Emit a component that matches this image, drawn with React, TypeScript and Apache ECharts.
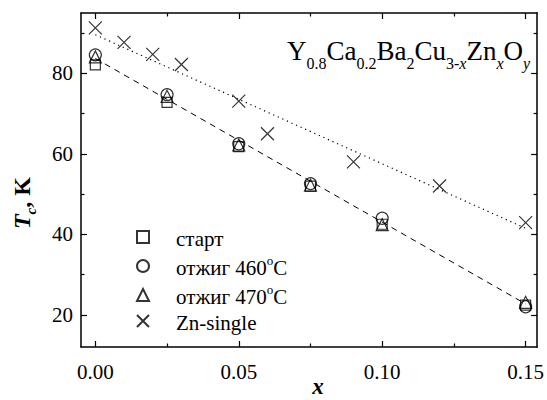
import React, { useEffect, useRef } from 'react';
import * as echarts from 'echarts';

// ---- data ----
const xStart = [0, 0.025, 0.05, 0.075, 0.1, 0.15];
const tcStart = [82.1, 72.8, 61.8, 52.0, 42.5, 22.4];
const tc460 = [84.6, 74.7, 62.5, 52.6, 44.0, 22.0];
const tc470 = [84.1, 74.3, 62.2, 52.2, 42.4, 23.1];
const xZn = [0, 0.01, 0.02, 0.03, 0.05, 0.06, 0.09, 0.12, 0.15];
const tcZn = [91.3, 87.7, 84.7, 82.2, 73.1, 65.0, 58.0, 52.0, 42.9];
const fitX = [0, 0.15];
const fitAnneal = [83.7, 22.7];
const fitZn = [89.6, 41.5];
const xMajor = [0, 0.05, 0.1, 0.15];
const xMinor = [0.025, 0.075, 0.125];
const yMajor = [20, 40, 60, 80];
const yMinor = [30, 50, 70, 90];
const seriesNames = ['старт', 'отжиг 460°C', 'отжиг 470°C', 'Zn-single'];

const X_MIN = -0.005;
const X_MAX = 0.154;
const Y_MIN = 12;
const Y_MAX = 95;
const FONT = 'Liberation Serif';
const INK = '#000';

const zip = (xs: number[], ys: number[]) => xs.map((x, i) => [x, ys[i]]);

function xAxisDef(position: string, ticks: number[], len: number, label: boolean, line: boolean) {
  return {
    type: 'value', position, min: X_MIN, max: X_MAX, gridIndex: 0,
    axisLine: { show: line, onZero: false, lineStyle: { color: INK, width: 1.5 } },
    axisTick: { show: true, inside: true, length: len, customValues: ticks, lineStyle: { color: INK, width: 1.2 } },
    axisLabel: {
      show: label, customValues: ticks, margin: 14,
      formatter: (v: number) => v.toFixed(2),
      fontFamily: FONT, fontSize: 21, color: INK,
    },
    splitLine: { show: false },
  };
}
function yAxisDef(position: string, ticks: number[], len: number, label: boolean, line: boolean) {
  return {
    type: 'value', position, min: Y_MIN, max: Y_MAX, gridIndex: 0,
    axisLine: { show: line, onZero: false, lineStyle: { color: INK, width: 1.5 } },
    axisTick: { show: true, inside: true, length: len, customValues: ticks, lineStyle: { color: INK, width: 1.2 } },
    axisLabel: {
      show: label, customValues: ticks, margin: 8,
      formatter: (v: number) => String(v),
      fontFamily: FONT, fontSize: 21, color: INK,
    },
    splitLine: { show: false },
  };
}

const hollow = { color: 'transparent', borderColor: INK, borderWidth: 1.2 };

export default function App() {
  const ref = useRef<HTMLDivElement>(null);
  useEffect(() => {
    if (!ref.current) return;
    const chart = echarts.init(ref.current, null, { renderer: 'svg' });
    chart.setOption({
      animation: false,
      backgroundColor: '#fff',
      textStyle: { fontFamily: FONT },
      grid: { left: 81, top: 13, right: 1, bottom: 53, containLabel: false },
      xAxis: [
        xAxisDef('bottom', xMajor, 6, true, true),
        xAxisDef('bottom', xMinor, 3.5, false, false),
        xAxisDef('top', xMajor, 6, false, true),
        xAxisDef('top', xMinor, 3.5, false, false),
      ],
      yAxis: [
        yAxisDef('left', yMajor, 6, true, true),
        yAxisDef('left', yMinor, 3.5, false, false),
        yAxisDef('right', yMajor, 6, false, true),
        yAxisDef('right', yMinor, 3.5, false, false),
      ],
      legend: {
        orient: 'vertical', left: 136, top: 228, padding: 0,
        itemWidth: 12, itemHeight: 12, itemGap: 5,
        selectedMode: false,
        data: seriesNames,
        formatter: (name: string) => {
          const parts = name.split('°');
          if (parts.length === 2) return `{p|${parts[0]}}{sup|o}{n|${parts[1]}}`;
          return `{p|${name}}`;
        },
        textStyle: {
          fontFamily: FONT, fontSize: 21, color: INK,
          rich: {
            p: { fontFamily: FONT, fontSize: 21, color: INK, padding: [0, 0, 0, 22], lineHeight: 24, verticalAlign: 'bottom' },
            n: { fontFamily: FONT, fontSize: 21, color: INK, lineHeight: 24, verticalAlign: 'bottom' },
            sup: { fontFamily: FONT, fontSize: 13, color: INK, lineHeight: 13, verticalAlign: 'top' },
          },
        },
      },
      series: [
        {
          name: 'fit-anneal', type: 'line', data: zip(fitX, fitAnneal), symbol: 'none',
          lineStyle: { color: INK, width: 1, type: [6, 5] }, z: 1,
        },
        {
          name: 'fit-zn', type: 'line', data: zip(fitX, fitZn), symbol: 'none',
          lineStyle: { color: INK, width: 1.2, type: [1.2, 3.8] }, z: 1,
        },
        {
          name: seriesNames[0], type: 'scatter', data: zip(xStart, tcStart),
          symbol: 'rect', symbolSize: 10, itemStyle: hollow, z: 3,
        },
        {
          name: seriesNames[1], type: 'scatter', data: zip(xStart, tc460),
          symbol: 'circle', symbolSize: 12, itemStyle: hollow, z: 3,
        },
        {
          name: seriesNames[2], type: 'scatter', data: zip(xStart, tc470),
          symbol: 'triangle', symbolSize: 12, itemStyle: hollow, z: 3,
        },
        {
          name: seriesNames[3], type: 'scatter', data: zip(xZn, tcZn),
          symbol: 'path://M0,0L10,10M10,0L0,10', symbolSize: 13, itemStyle: hollow, z: 3,
        },
      ],
      graphic: [
        {
          type: 'text', x: 287, y: 37, z: 10,
          style: {
            text: '{m|Y}{s|0.8}{m|Ca}{s|0.2}{m|Ba}{s|2}{m|Cu}{s|3-}{si|x}{m|Zn}{si|x}{m|O}{si|y}{sp| }',
            fontFamily: FONT, fontSize: 27,
            verticalAlign: 'top', align: 'left',
            rich: {
              m: { fontFamily: FONT, fontSize: 27, lineHeight: 28, verticalAlign: 'top', fill: INK },
              s: { fontFamily: FONT, fontSize: 16, lineHeight: 16, verticalAlign: 'bottom', fill: INK },
              si: { fontFamily: FONT, fontSize: 16, fontStyle: 'italic', lineHeight: 16, verticalAlign: 'bottom', fill: INK },
              sp: { fontFamily: FONT, fontSize: 1, lineHeight: 34, fill: INK },
            },
          },
        },
        {
          type: 'text', x: 24, y: 203, rotation: Math.PI / 2, z: 10,
          style: {
            text: '{t|T}{c|c}{k|, K}{sp| }',
            fontFamily: FONT, fontSize: 24, fontWeight: 'bold',
            align: 'center', verticalAlign: 'middle',
            rich: {
              t: { fontFamily: FONT, fontSize: 24, fontWeight: 'bold', fontStyle: 'italic', lineHeight: 24, verticalAlign: 'top', fill: INK },
              c: { fontFamily: FONT, fontSize: 15, fontWeight: 'bold', fontStyle: 'italic', lineHeight: 15, verticalAlign: 'bottom', fill: INK },
              k: { fontFamily: FONT, fontSize: 24, fontWeight: 'bold', lineHeight: 24, verticalAlign: 'top', fill: INK },
              sp: { fontFamily: FONT, fontSize: 1, lineHeight: 28, fill: INK },
            },
          },
        },
        {
          type: 'text', x: 318, y: 386, z: 10,
          style: {
            text: 'x', fontFamily: FONT, fontSize: 23, fontWeight: 'bold', fontStyle: 'italic',
            align: 'center', verticalAlign: 'middle', fill: INK,
          },
        },
      ],
    });
    return () => chart.dispose();
  }, []);
  return <div ref={ref} style={{ width: 547, height: 400, position: 'absolute', left: 0, top: 0 }} />;
}
